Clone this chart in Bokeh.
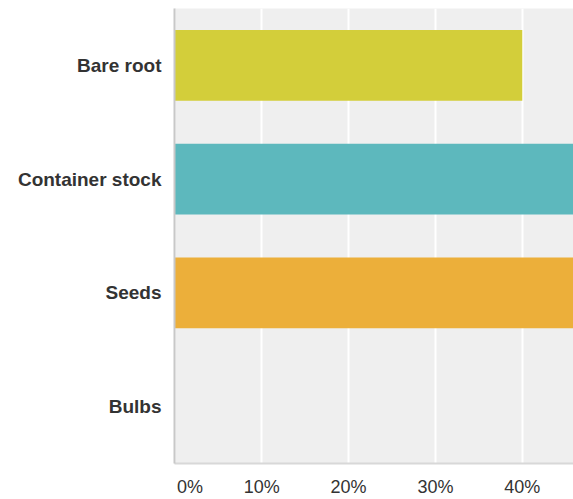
from bokeh.plotting import figure
from bokeh.models import ColumnDataSource, FactorRange, Range1d, NumeralTickFormatter, FixedTicker
from bokeh.embed import file_html
from bokeh.resources import INLINE

categories = ["Bare root", "Container stock", "Seeds", "Bulbs"]
values = [0.40, 0.55, 0.60, 0.0]
colors = ["#d3ce3a", "#5db8bd", "#ecaf3a", "#9b9b9b"]
x_ticks = [0.0, 0.1, 0.2, 0.3, 0.4]

src = ColumnDataSource(dict(cat=categories, val=values, color=colors))

p = figure(width=573, height=499, output_backend="svg", toolbar_location=None,
           y_range=FactorRange(*reversed(categories), range_padding=0.0),
           x_range=Range1d(-0.0005, 0.459),
           min_border_left=174, min_border_right=0, min_border_top=8, min_border_bottom=36)
p.hbar(y="cat", right="val", left=0, height=0.62, fill_color="color", line_color=None, source=src)

p.background_fill_color = "#efefef"
p.border_fill_color = "white"
p.outline_line_color = None
p.ygrid.grid_line_color = None
p.xgrid.grid_line_color = "white"
p.xgrid.grid_line_width = 2
p.xaxis.ticker = FixedTicker(ticks=x_ticks)
p.xaxis.formatter = NumeralTickFormatter(format="0%")
# first label sits to the right of the axis edge, as in the original
p.xaxis.major_label_overrides = {0: "\u00a0" * 6 + "0%"}
for ax in (p.xaxis, p.yaxis):
    ax.major_tick_line_color = None
    ax.minor_tick_line_color = None
    ax.major_tick_out = 0
    ax.major_tick_in = 0
    ax.major_label_text_font = "Liberation Sans"
    ax.major_label_text_color = "#333333"
p.xaxis.major_label_text_font_size = "18px"
p.yaxis.major_label_text_font_size = "19px"
p.xaxis.axis_line_color = "#d8d8d8"
p.xaxis.axis_line_width = 2
p.yaxis.axis_line_color = "#c8c8c8"
p.yaxis.axis_line_width = 2
p.yaxis.major_label_text_font_style = "bold"
p.yaxis.major_label_standoff = 13
p.xaxis.major_label_standoff = 13

open("out.html", "w").write(file_html(p, INLINE))
